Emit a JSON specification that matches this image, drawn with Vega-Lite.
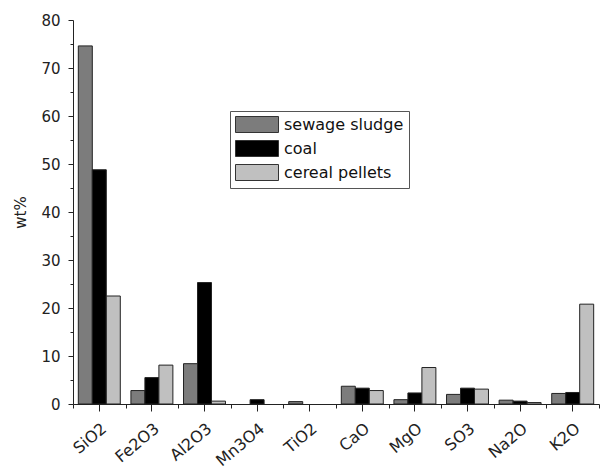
{
  "$schema": "https://vega.github.io/schema/vega-lite/v6.json",
  "width": 526,
  "height": 384,
  "autosize": "none",
  "padding": {"left": 73, "top": 20, "right": 2, "bottom": 68},
  "background": "white",
  "config": {
    "view": {"stroke": null},
    "font": "DejaVu Sans",
    "axis": {"grid": false, "domainColor": "#222", "tickColor": "#222", "labelColor": "#222", "titleColor": "#222"}
  },
  "data": {
    "values": [
      {"oxide": "SiO2", "fuel": "sewage sludge", "wt": 74.6},
      {"oxide": "SiO2", "fuel": "coal", "wt": 48.8},
      {"oxide": "SiO2", "fuel": "cereal pellets", "wt": 22.5},
      {"oxide": "Fe2O3", "fuel": "sewage sludge", "wt": 2.8},
      {"oxide": "Fe2O3", "fuel": "coal", "wt": 5.5},
      {"oxide": "Fe2O3", "fuel": "cereal pellets", "wt": 8.1},
      {"oxide": "Al2O3", "fuel": "sewage sludge", "wt": 8.4},
      {"oxide": "Al2O3", "fuel": "coal", "wt": 25.3},
      {"oxide": "Al2O3", "fuel": "cereal pellets", "wt": 0.6},
      {"oxide": "Mn3O4", "fuel": "coal", "wt": 0.9},
      {"oxide": "TiO2", "fuel": "sewage sludge", "wt": 0.5},
      {"oxide": "CaO", "fuel": "sewage sludge", "wt": 3.7},
      {"oxide": "CaO", "fuel": "coal", "wt": 3.3},
      {"oxide": "CaO", "fuel": "cereal pellets", "wt": 2.8},
      {"oxide": "MgO", "fuel": "sewage sludge", "wt": 0.9},
      {"oxide": "MgO", "fuel": "coal", "wt": 2.3},
      {"oxide": "MgO", "fuel": "cereal pellets", "wt": 7.6},
      {"oxide": "SO3", "fuel": "sewage sludge", "wt": 2.0},
      {"oxide": "SO3", "fuel": "coal", "wt": 3.3},
      {"oxide": "SO3", "fuel": "cereal pellets", "wt": 3.1},
      {"oxide": "Na2O", "fuel": "sewage sludge", "wt": 0.8},
      {"oxide": "Na2O", "fuel": "coal", "wt": 0.6},
      {"oxide": "Na2O", "fuel": "cereal pellets", "wt": 0.3},
      {"oxide": "K2O", "fuel": "sewage sludge", "wt": 2.2},
      {"oxide": "K2O", "fuel": "coal", "wt": 2.4},
      {"oxide": "K2O", "fuel": "cereal pellets", "wt": 20.8}
    ]
  },
  "layer": [
    {
      "mark": {"type": "bar", "stroke": "#222", "strokeWidth": 1},
      "encoding": {
        "x": {
          "field": "oxide", "type": "nominal",
          "sort": ["SiO2", "Fe2O3", "Al2O3", "Mn3O4", "TiO2", "CaO", "MgO", "SO3", "Na2O", "K2O"],
          "scale": {"paddingInner": 0, "paddingOuter": 0},
          "axis": {"orient": "bottom", "title": null, "labelAngle": -40, "labelFontSize": 16, "tickSize": 7, "labelPadding": 9}
        },
        "xOffset": {
          "field": "fuel", "type": "nominal",
          "sort": ["sewage sludge", "coal", "cereal pellets"],
          "scale": {"domain": ["sewage sludge", "coal", "cereal pellets"], "paddingInner": 0, "paddingOuter": 0.38}
        },
        "y": {
          "field": "wt", "type": "quantitative",
          "scale": {"domain": [0, 80], "nice": false},
          "axis": {"orient": "left", "title": "wt%", "values": [0, 10, 20, 30, 40, 50, 60, 70, 80], "labelFontSize": 15, "titleFontSize": 15, "titleFontWeight": "normal", "tickSize": 5, "labelPadding": 8, "titlePadding": 12}
        },
        "fill": {
          "field": "fuel", "type": "nominal",
          "scale": {"domain": ["sewage sludge", "coal", "cereal pellets"], "range": ["#7c7c7c", "#000000", "#c0c0c0"]},
          "legend": {
            "orient": "none", "legendX": 157, "legendY": 91, "title": null,
            "symbolType": "M-1,-1H4.375V1H-1Z", "symbolSize": 256,
            "symbolStrokeColor": "#333", "symbolStrokeWidth": 1, "symbolOpacity": 1,
            "labelFontSize": 16, "labelColor": "#111", "labelOffset": 32,
            "strokeColor": "#555", "fillColor": "white", "padding": 5, "rowPadding": 3
          }
        }
      }
    },
    {
      "mark": {"type": "bar", "opacity": 0},
      "encoding": {
        "x": {
          "field": "oxide", "type": "nominal",
          "sort": ["SiO2", "Fe2O3", "Al2O3", "Mn3O4", "TiO2", "CaO", "MgO", "SO3", "Na2O", "K2O"],
          "axis": {"orient": "bottom", "title": null, "labels": false, "domain": false, "tickBand": "extent", "tickSize": 4}
        },
        "y": {
          "field": "wt", "type": "quantitative", "stack": null,
          "scale": {"domain": [0, 80], "nice": false},
          "axis": {"orient": "left", "title": null, "labels": false, "domain": false, "values": [5, 15, 25, 35, 45, 55, 65, 75], "tickSize": 3}
        }
      }
    }
  ],
  "resolve": {"axis": {"x": "independent", "y": "independent"}}
}
